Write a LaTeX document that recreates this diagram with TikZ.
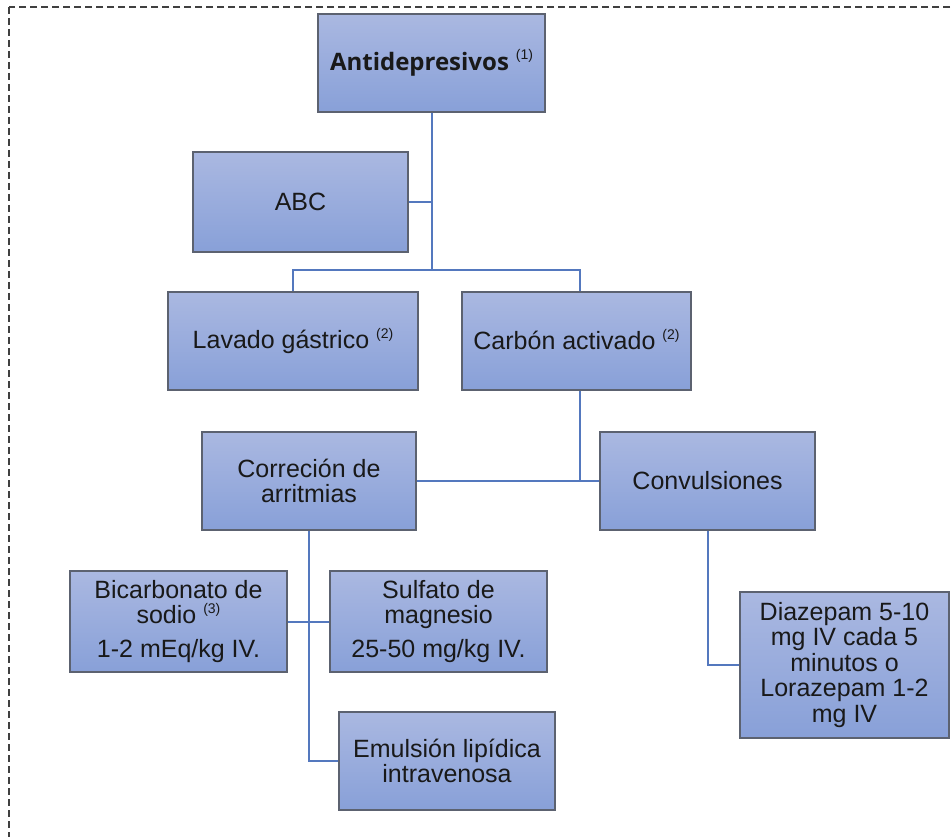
\documentclass[tikz,border=0pt]{standalone}
\usepackage{fontspec}
\setmainfont{Liberation Sans}
\newfontfamily\titulo{Open Sans}
\usepackage{tikz}
\usetikzlibrary{calc}
\definecolor{cajaarriba}{RGB}{170,184,225}
\definecolor{cajaabajo}{RGB}{136,160,216}
\definecolor{borde}{RGB}{92,98,112}
\definecolor{enlace}{RGB}{84,120,190}
\newcommand{\nota}[1]{\raisebox{0.8ex}{\fontsize{14}{14}\selectfont(#1)}}
\tikzset{caja/.style={draw=borde,line width=1.2pt,top color=cajaarriba,bottom color=cajaabajo,
  align=center,inner sep=2pt,text=black!90,font=\fontsize{25}{25.5}\selectfont},
  enlace/.style={draw=enlace,line width=2pt}}

\begin{document}
\begin{tikzpicture}[x=1pt,y=-1pt]
          \useasboundingbox (0,0) rectangle (951,837);
          \draw[black!75,line width=1.3pt,dash pattern=on 7pt off 4pt] (9,7) rectangle (962,850);

          \node (anti) at (431.5,63) [caja,minimum width=227pt,minimum height=98pt] {{\titulo\fontsize{24}{24}\selectfont\bfseries Antidepresivos} \nota{1}};
          \node (abc) at (300.5,202) [caja,minimum width=215pt,minimum height=100pt] {ABC};
          \node (lavado) at (293,341) [caja,minimum width=250pt,minimum height=98pt] {\raisebox{-6pt}{Lavado gástrico \nota{2}}};
          \node (carbon) at (576.5,341) [caja,minimum width=229pt,minimum height=98pt] {\raisebox{3pt}{Carbón activado \nota{2}}};
          \node (arritmias) at (309,481) [caja,minimum width=214pt,minimum height=98pt] {Correción de\\arritmias};
          \node (convul) at (707.5,481) [caja,minimum width=215pt,minimum height=98pt] {Convulsiones};
          \node (bicarb) at (178.5,621.5) [caja,minimum width=217pt,minimum height=101pt] {Bicarbonato de\\sodio \nota{3}\\[8pt]1-2 mEq/kg IV.};
          \node (sulfato) at (438.5,621.5) [caja,minimum width=217pt,minimum height=101pt] {Sulfato de\\magnesio\\[8pt]25-50 mg/kg IV.};
          \node (emulsion) at (447,761) [caja,minimum width=216pt,minimum height=98pt] {Emulsión lipídica\\intravenosa};
          \node (diazepam) at (844.5,665) [caja,minimum width=209pt,minimum height=146pt] {Diazepam 5-10\\mg IV cada 5\\minutos o\\Lorazepam 1-2\\mg IV};

          \coordinate (rama) at (431.5,270);
          \coordinate (bajada) at ($(carbon.south)+(3,0)$);
          \draw[enlace] (anti) -- (rama);
          \draw[enlace] (abc.east) -- (abc.east -| rama);
          \draw[enlace] (lavado.north) |- (rama) -| ($(carbon.north)+(3,0)$);
          \draw[enlace] (bajada) -- (bajada |- convul.west);
          \draw[enlace] (arritmias.east) -- (convul.west);
          \draw[enlace] (arritmias.south) |- (emulsion.west);
          \draw[enlace] (bicarb.east) -- (sulfato.west);
          \draw[enlace] (convul.south) |- (diazepam.west);
        \end{tikzpicture}
\end{document}
